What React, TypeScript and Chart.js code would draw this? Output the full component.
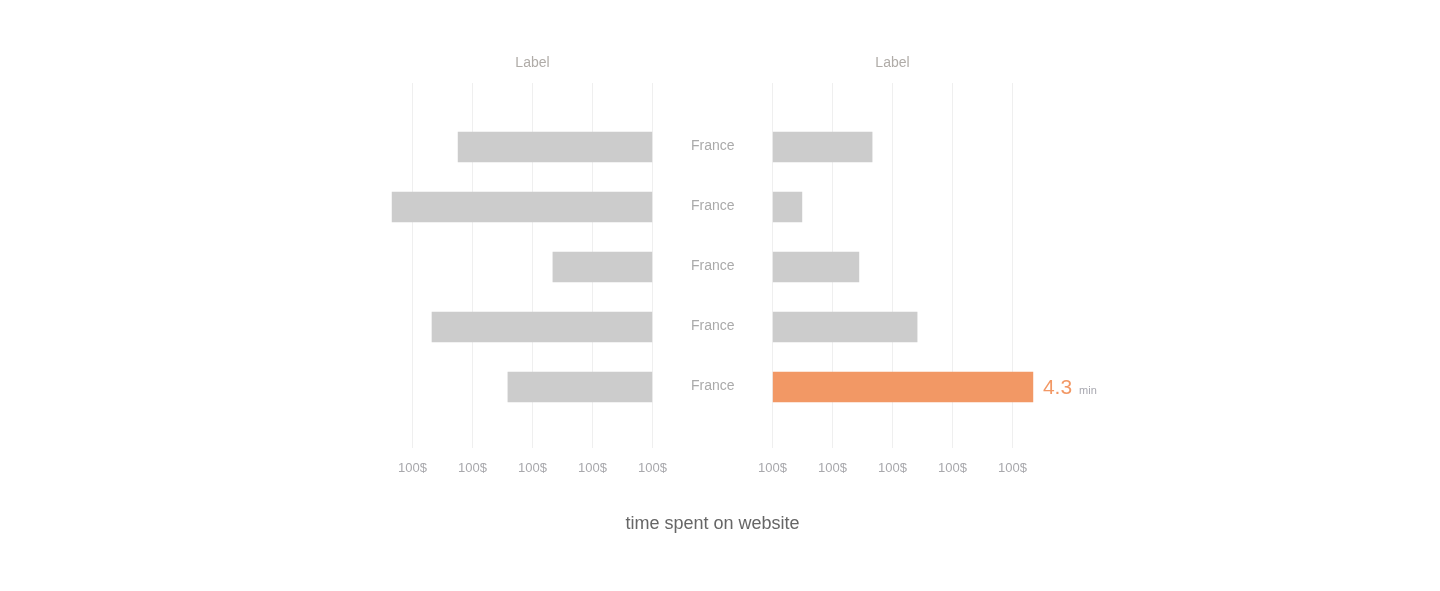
import React, { useEffect, useRef } from "react";
import { Chart, registerables } from "chart.js";

Chart.register(...registerables);

// ---- data ----
const categories = ["France", "France", "France", "France", "France"];
const leftValues = [3.24, 4.34, 1.66, 3.675, 2.41];
const rightValues = [1.66, 0.49, 1.44, 2.41, 4.34];
const xTickValues = [0, 1, 2, 3, 4];
const xTickLabels = ["100$", "100$", "100$", "100$", "100$"];
const panelTitles = ["Label", "Label"];
const highlightIndex = 4;
const highlightUnit = "min";
const footerTitle = "time spent on website";

// ---- styles ----
const FONT = '"Liberation Sans", Arial, Helvetica, sans-serif';
const GRAY_BAR = "#cccccc";
const ORANGE = "#f29865";
const GRID = "#efefef";
const TICK_COLOR = "#a8a8ac";
const CAT_COLOR = "#aaaaaa";
const TITLE_COLOR = "#b0aca8";
const UNIT_COLOR = "#a8a8b0";

const Y_MIN = -1.0667;
const Y_MAX = 4.9833;
const X_MAX = 4.5;

function xScale(reverse: boolean) {
  return {
    type: "linear",
    position: "bottom",
    reverse,
    min: 0,
    max: X_MAX,
    afterBuildTicks: (s: any) => {
      s.ticks = xTickValues.map((v) => ({ value: v }));
    },
    ticks: {
      callback: (_v: any, i: number) => xTickLabels[i],
      color: TICK_COLOR,
      font: { family: FONT, size: 13 },
      padding: 13,
      maxRotation: 0,
      autoSkip: false,
    },
    grid: { color: GRID, lineWidth: 1, drawTicks: true, tickLength: 2 },
    border: { display: false },
    afterFit: (s: any) => {
      s.height = 40;
    },
  };
}

function titleOpts(text: string) {
  return {
    display: true,
    text,
    color: TITLE_COLOR,
    font: { family: FONT, size: 14, weight: "normal" },
    padding: { top: 54.6, bottom: 11.6 },
  };
}

const valueLabelPlugin = {
  id: "valueLabel",
  afterDatasetsDraw(chart: any) {
    const meta = chart.getDatasetMeta(0);
    const bar = meta.data[highlightIndex];
    if (!bar) return;
    const ctx = chart.ctx;
    const txt = rightValues[highlightIndex].toFixed(1);
    ctx.save();
    ctx.textAlign = "left";
    ctx.textBaseline = "alphabetic";
    ctx.font = `21px ${FONT}`;
    ctx.fillStyle = ORANGE;
    const x0 = bar.x + 10;
    const base = bar.y + 6.5;
    ctx.fillText(txt, x0, base);
    const w = ctx.measureText(txt).width;
    ctx.font = `11px ${FONT}`;
    ctx.fillStyle = UNIT_COLOR;
    ctx.fillText(highlightUnit, x0 + w + 7, base);
    ctx.restore();
  },
};

export default function App() {
  const leftRef = useRef<HTMLCanvasElement | null>(null);
  const rightRef = useRef<HTMLCanvasElement | null>(null);

  useEffect(() => {
    Chart.defaults.font.family = FONT;

    const left = new Chart(leftRef.current as HTMLCanvasElement, {
      type: "bar",
      data: {
        datasets: [
          {
            data: leftValues.map((v, i) => ({ x: v, y: i })),
            backgroundColor: GRAY_BAR,
            barThickness: 30,
            borderWidth: 0,
          },
        ],
      },
      options: {
        animation: false,
        responsive: false,
        indexAxis: "y",
        events: [],
        layout: { padding: { left: 382.5, right: 17.5, top: 0, bottom: 105 } },
        plugins: {
          legend: { display: false },
          tooltip: { enabled: false },
          title: titleOpts(panelTitles[0]),
        },
        scales: {
          x: xScale(true),
          y: {
            type: "linear",
            position: "right",
            reverse: true,
            offset: false,
            min: Y_MIN,
            max: Y_MAX,
            afterBuildTicks: (s: any) => {
              s.ticks = categories.map((_, i) => ({ value: i }));
            },
            ticks: { display: false },
            grid: { display: false, drawTicks: false },
            border: { display: false },
            afterFit: (s: any) => {
              s.width = 30;
            },
          },
        },
      } as any,
    } as any);

    const right = new Chart(rightRef.current as HTMLCanvasElement, {
      type: "bar",
      data: {
        datasets: [
          {
            data: rightValues.map((v, i) => ({ x: v, y: i })),
            backgroundColor: rightValues.map((_, i) =>
              i === highlightIndex ? ORANGE : GRAY_BAR
            ),
            barThickness: 30,
            borderWidth: 0,
          },
        ],
      },
      options: {
        animation: false,
        responsive: false,
        indexAxis: "y",
        events: [],
        layout: { padding: { left: 12.5, right: 307.5, top: 0, bottom: 105 } },
        plugins: {
          legend: { display: false },
          tooltip: { enabled: false },
          title: titleOpts(panelTitles[1]),
        },
        scales: {
          x: xScale(false),
          y: {
            type: "linear",
            position: "left",
            reverse: true,
            offset: false,
            min: Y_MIN,
            max: Y_MAX,
            afterBuildTicks: (s: any) => {
              s.ticks = categories.map((_, i) => ({ value: i - 0.015 }));
            },
            ticks: {
              callback: (_v: any, i: number) => categories[i],
              color: CAT_COLOR,
              font: { family: FONT, size: 14 },
              crossAlign: "center",
              padding: 38,
              autoSkip: false,
            },
            grid: { display: false, drawTicks: false },
            border: { display: false },
            afterFit: (s: any) => {
              s.width = 120;
            },
          },
          yPad: {
            type: "linear",
            axis: "y",
            position: "right",
            display: true,
            offset: false,
            ticks: { display: false },
            grid: { display: false, drawTicks: false },
            border: { display: false },
            afterFit: (s: any) => {
              s.width = 90;
            },
          },
        },
      } as any,
      plugins: [valueLabelPlugin],
    } as any);

    return () => {
      left.destroy();
      right.destroy();
    };
  }, []);

  return (
    <div
      style={{
        position: "absolute",
        left: 0,
        top: 0,
        width: 1440,
        height: 591,
        background: "#ffffff",
        overflow: "hidden",
      }}
    >
      <canvas
        ref={leftRef}
        width={700}
        height={591}
        style={{ position: "absolute", left: 0, top: 0 }}
      />
      <canvas
        ref={rightRef}
        width={800}
        height={591}
        style={{ position: "absolute", left: 640, top: 0 }}
      />
      <div
        style={{
          position: "absolute",
          left: 0,
          top: 513,
          width: 1425,
          textAlign: "center",
          fontFamily: FONT,
          fontSize: 18,
          lineHeight: "20px",
          color: "#666666",
        }}
      >
        {footerTitle}
      </div>
    </div>
  );
}
